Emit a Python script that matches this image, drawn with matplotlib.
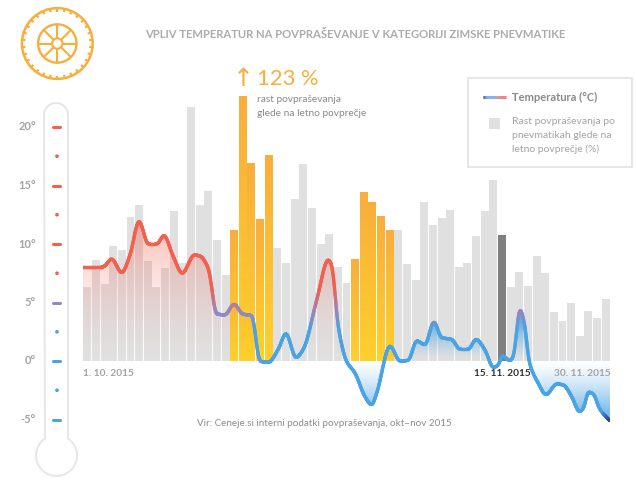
"""Temperature vs winter tyre demand, oct-nov 2015 (daily bars + smoothed temperature line)."""
import numpy as np
import matplotlib
matplotlib.use("Agg")
import matplotlib.pyplot as plt
from matplotlib.collections import LineCollection
from matplotlib.colors import LinearSegmentedColormap, to_rgb
from matplotlib.patches import Circle, Polygon, Rectangle
from matplotlib.transforms import blended_transform_factory

plt.rcParams["font.family"] = ["Lato", "DejaVu Sans"]

# demand growth against yearly average, %, one bar per day from 1.10.
demand = [34.5, 46.9, 35.7, 53.4, 51.5, 66.9, 72.4, 46.4, 34.4, 43.2, 69.6, 45.5, 117.9,
          72.4, 78.9, 56.2, 39.9, 60.4, 123.0, 91.9, 65.5, 95.6, 52.5, 45.5, 75.2, 91.5,
          71.0, 54.3, 59.0, 43.6, 36.2, 46.9, 78.0, 73.4, 66.9, 60.8, 60.8, 45.0, 37.6,
          73.8, 63.1, 66.4, 70.1, 43.6, 45.5, 58.0, 69.6, 84.0, 58.5, 34.4, 41.3, 34.8,
          48.7, 40.9, 22.7, 18.6, 26.9, 11.6, 23.2, 20.0, 28.8]
orange_days = [17, 18, 19, 20, 21, 31, 32, 33, 34, 35]
dark_days = [48]

# temperature (day index, degrees)
temp_days = [-0.6, 1.85, 2.82, 3.98, 4.94, 5.98, 7.06, 8.03, 8.88, 9.95, 10.99, 12.38, 13.04,
             14.0, 14.97, 15.94, 16.98, 17.98, 19.03, 19.99, 20.95, 22.1, 22.99, 24.15, 25.0,
             26.55, 27.89, 28.28, 29.05, 29.97, 31.0, 32.14, 32.92, 33.49, 35.03, 36.19,
             37.15, 38.12, 39.08, 40.12, 41.01, 42.17, 43.13, 44.1, 44.99, 46.03, 46.99,
             47.57, 48.03, 48.92, 49.3, 50.08, 50.66, 51.12, 52.2, 53.09, 54.33, 55.1,
             56.07, 56.96, 57.42, 58.0, 58.58, 59.27, 60.5]
temp_vals = [8.06, 8.06, 8.72, 7.55, 9.06, 11.95, 10.0, 10.0, 10.72, 8.92, 7.5, 9.06, 8.97,
             7.92, 4.02, 3.95, 4.85, 4.02, 3.87, 0.0, -0.12, 1.0, 2.35, 0.3, 1.0,
             5.21, 8.65, 8.2, 2.93, 0.03, -1.05, -3.05, -3.75, -2.76, 1.28, 0.0,
             0.06, 1.72, 1.39, 3.35, 1.99, 1.85, 1.0, 1.0, 1.85, 0.94, -0.55,
             -0.34, 0.47, 0.03, 0.37, 4.4, 2.93, 0.03, -1.9, -2.88, -1.97, -2.05,
             -3.05, -4.33, -4.05, -2.66, -2.82, -4.05, -5.13]

major_ticks = [20, 15, 10, 5, 0, -5]
minor_ticks = [17.5, 12.5, 7.5, 2.5, -2.5]
date_labels = ["1. 10. 2015", "15. 11. 2015", "30. 11. 2015"]

W, H = 636, 483
RED = "#f2604f"
BLUE = "#4aa3e4"
PURPLE = "#9c86bd"
GREY = "#a3a3a3"
ORANGE = "#f8ae3c"
temp_cmap = LinearSegmentedColormap.from_list("temp", [
    (0.0, "#35308f"), (0.8 / 13, BLUE), (7.9 / 13, BLUE), (9.5 / 13, PURPLE), (11.5 / 13, RED), (1.0, RED)])
legend_cmap = LinearSegmentedColormap.from_list("leg", [
    (0.0, "#35308f"), (0.15, BLUE), (0.4, BLUE), (0.6, PURPLE), (0.78, RED), (1.0, RED)])
T_LO, T_HI = -5.2, 7.8


def tcol(t):
    return temp_cmap((np.asarray(t) - T_LO) / (T_HI - T_LO))


def tick_col(t):
    return RED if t > 5 else PURPLE if t == 5 else BLUE


def pchip(x, y, xs):
    # monotone cubic, keeps the curve from overshooting between the readings
    x = np.asarray(x, float); y = np.asarray(y, float)
    h = np.diff(x); d = np.diff(y) / h
    m = np.zeros_like(y)
    for i in range(1, len(x) - 1):
        if d[i - 1] * d[i] > 0:
            w1 = 2 * h[i] + h[i - 1]; w2 = h[i] + 2 * h[i - 1]
            m[i] = (w1 + w2) / (w1 / d[i - 1] + w2 / d[i])
    m[0] = d[0]; m[-1] = d[-1]
    k = np.clip(np.searchsorted(x, xs) - 1, 0, len(h) - 1)
    s = (xs - x[k]) / h[k]
    return ((2 * s**3 - 3 * s**2 + 1) * y[k] + (s**3 - 2 * s**2 + s) * h[k] * m[k]
            + (-2 * s**3 + 3 * s**2) * y[k + 1] + (s**3 - s**2) * h[k] * m[k + 1])


fig = plt.figure(figsize=(W / 100, H / 100), dpi=100)
# px -> figure box: days from x=83 to 610, 0 deg at y=361, 11.7 px/deg, 2.154 px/%
ax_top, ax_bot = 60, 440
axb = fig.add_axes([83 / W, 1 - ax_bot / H, 527 / W, (ax_bot - ax_top) / H])
ax = fig.add_axes(axb.get_position(), facecolor="none")
over = fig.add_axes([0, 0, 1, 1], facecolor="none")
over.set_xlim(0, W); over.set_ylim(H, 0)
for a in (axb, ax, over):
    a.axis("off")

# bars
days = np.arange(len(demand))
dem = np.array(demand)
cols = ["#e0e0e0"] * len(demand)
for d in dark_days:
    cols[d] = "#7f7f7f"
plain = [d for d in days if d not in orange_days]
axb.bar(plain, dem[plain], width=0.92, color=[cols[d] for d in plain], linewidth=0)
bar_grad = np.linspace(to_rgb("#ffd02c"), to_rgb("#f8ae3c"), 64)[::-1, None, :]
for d in orange_days:
    axb.imshow(bar_grad, extent=(d - 0.46, d + 0.46, 0, dem[d]), aspect="auto", origin="upper", zorder=2)
axb.set_xlim(-0.5, 60.5)
axb.set_ylim((361 - ax_bot) / 2.154, (361 - ax_top) / 2.154)

# temperature, short running mean rounds the tops like the original curve
xs = np.linspace(temp_days[0], temp_days[-1], 2400)
ys = pchip(temp_days, temp_vals, xs)
win = 15
ys = np.convolve(np.r_[np.full(win, ys[0]), ys, np.full(win, ys[-1])], np.ones(win) / win, mode="same")[win:-win]
ylim = ((361 - ax_bot) / 11.7, (361 - ax_top) / 11.7)

tt = np.linspace(-6, 13, 400)[:, None]
red_img = np.zeros((400, 1, 4)); blue_img = np.zeros((400, 1, 4))
red_img[..., :3] = to_rgb(RED)
red_img[..., 3] = 0.42 * (np.clip(tt, 0, 12) / 12) ** 1.5
blue_img[..., :3] = to_rgb(BLUE)
blue_img[..., 3] = np.where(tt > 0, 0.8 * np.clip(tt / 3.2, 0, 1) ** 1.4,
                            0.75 * np.clip(-tt / 4.5, 0, 1) ** 1.3)
for lo, hi, img in [(-0.6, 19.99, red_img), (25.0, 29.97, red_img), (29.97, 60.5, blue_img)]:
    sel = (xs >= lo) & (xs <= hi)
    poly = np.vstack([np.c_[xs[sel], ys[sel]], [[hi, 0], [lo, 0]]])
    patch = Polygon(poly, closed=True, transform=ax.transData, facecolor="none", edgecolor="none")
    ax.add_patch(patch)
    im = ax.imshow(img, extent=(lo, hi, -6, 13), origin="lower", aspect="auto", zorder=2)
    im.set_clip_path(patch)

pts = np.c_[xs, ys].reshape(-1, 1, 2)
segs = np.concatenate([pts[:-1], pts[1:]], axis=1)
lc = LineCollection(segs, colors=tcol((ys[:-1] + ys[1:]) / 2), linewidths=2.4, capstyle="round", zorder=3)
ax.add_collection(lc)
ax.set_xlim(-0.5, 60.5)
ax.set_ylim(*ylim)

# thermometer, outline goes up the tube, over the cap, down and round the bulb
TH = "#e8e8e8"
cap = np.linspace(np.pi, 0, 40)
cap_x = 56 + 12 * np.cos(cap); cap_y = 115 - 12 * np.sin(cap)
a0 = np.arcsin(11.5 / 20.5)
phi = np.linspace(np.pi / 2 - a0, -3 * np.pi / 2 + a0, 80)
bulb_x = 56.5 + 20.5 * np.cos(phi); bulb_y = 455.5 - 20.5 * np.sin(phi)
over.plot(np.r_[bulb_x[-1], cap_x, bulb_x], np.r_[bulb_y[-1], cap_y, bulb_y], color=TH, lw=1.5, zorder=1)
mix = blended_transform_factory(over.transData, ax.transData)
for t in major_ticks:
    over.plot([53, 60], [t, t], transform=mix, color=tick_col(t), lw=2.2, solid_capstyle="round", zorder=2)
    over.text(36, t, f"{t}°", transform=mix, ha="right", va="center", fontsize=8, fontweight="bold", color=GREY)
over.scatter([57] * len(minor_ticks), minor_ticks, s=7, marker="o", linewidths=0, transform=mix,
             c=[tick_col(t) for t in minor_ticks], zorder=2)

# tyre icon
over.add_patch(Circle((57.3, 43.5), 35.4, fill=False, ec=ORANGE, lw=1.8))
over.add_patch(Circle((57.3, 43.5), 19.2, fill=False, ec=ORANGE, lw=1.7))
over.add_patch(Circle((57.3, 43.5), 5.2, fill=False, ec=ORANGE, lw=1.5))
for a in np.arange(8) * np.pi / 4:
    over.plot([57.3 + 5.2 * np.cos(a), 57.3 + 19 * np.cos(a)], [43.5 + 5.2 * np.sin(a), 43.5 + 19 * np.sin(a)],
              color=ORANGE, lw=1.5, solid_capstyle="butt")
for a in np.arange(30) * np.pi / 15 + np.pi / 30:
    over.plot([57.3 + 32 * np.cos(a), 57.3 + 35 * np.cos(a)], [43.5 + 32 * np.sin(a), 43.5 + 35 * np.sin(a)],
              color=ORANGE, lw=1.6, solid_capstyle="butt")

# texts
over.text(355.5, 34, "VPLIV TEMPERATUR NA POVPRAŠEVANJE V KATEGORIJI ZIMSKE PNEVMATIKE", ha="center", va="center",
          fontsize=8.13, fontweight="bold", color="#ababab")
over.text(243, 79, "↑", ha="center", va="center", fontsize=18, color=ORANGE, family="DejaVu Sans")
over.text(257, 79, "123 %", ha="left", va="center", fontsize=15.8, color=ORANGE)
over.text(257, 99, "rast povpraševanja", ha="left", va="center", fontsize=7.3, color="#888888")
over.text(257, 113, "glede na letno povprečje", ha="left", va="center", fontsize=7.3, color="#888888")
over.text(83, 374, date_labels[0], ha="left", va="center", fontsize=7.3, fontweight="bold", color=GREY)
over.text(474, 374, date_labels[1], ha="left", va="center", fontsize=7.3, fontweight="bold", color="#333333")
over.text(611, 374, date_labels[2], ha="right", va="center", fontsize=7.3, fontweight="bold", color=GREY)
over.text(324.5, 424, "Vir: Ceneje.si interni podatki povpraševanja, okt–nov 2015", ha="center", va="center",
          fontsize=7.1, color="#8c8c8c")

# legend box
over.add_patch(Rectangle((468, 78), 164, 89, fill=False, ec="#e6e6e6", lw=1.4))
lx = np.linspace(483, 506, 30)
lg_pts = np.c_[lx, np.full_like(lx, 97)].reshape(-1, 1, 2)
lg = LineCollection(np.concatenate([lg_pts[:-1], lg_pts[1:]], axis=1),
                    colors=legend_cmap(np.linspace(0, 1, 29)), linewidths=2.2)
over.add_collection(lg)
over.add_patch(Rectangle((489, 118), 11, 11, fc="#e0e0e0", ec="none"))
over.text(512, 97, "Temperatura (°C)", ha="left", va="center", fontsize=8, fontweight="bold", color="#8a8a8a")
for y, s in zip((121, 135, 149), ("Rast povpraševanja po", "pnevmatikah glede na", "letno povprečje (%)")):
    over.text(512, y, s, ha="left", va="center", fontsize=7.5, color="#a3a3a3")

fig.savefig("out.png", dpi=100)
